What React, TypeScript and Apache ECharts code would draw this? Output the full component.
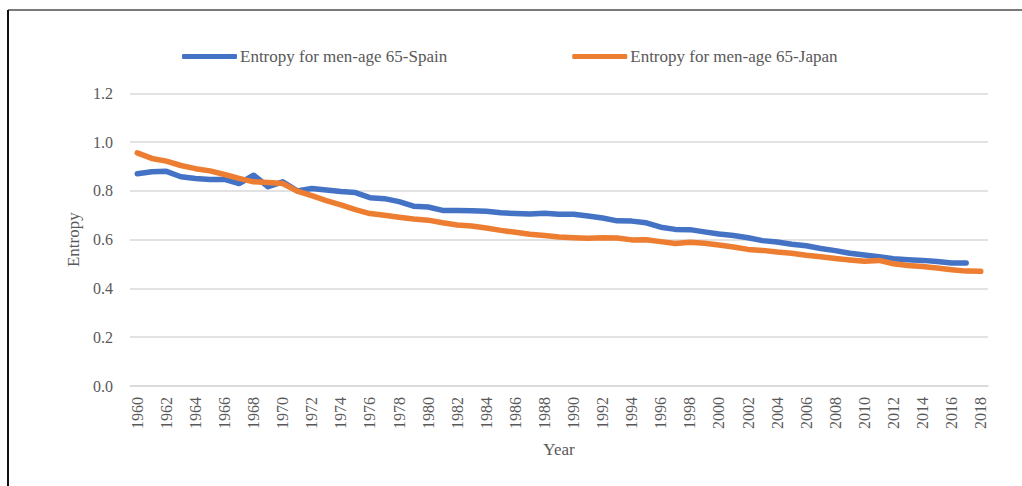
import React, { useEffect, useRef } from "react";
import * as echarts from "echarts";

const years: string[] = [];
for (let y = 1960; y <= 2018; y++) years.push(String(y));

const spain: (number | null)[] = [
  0.870, 0.878, 0.880, 0.858, 0.851, 0.847, 0.847, 0.830, 0.864, 0.817,
  0.837, 0.800, 0.810, 0.804, 0.797, 0.793, 0.772, 0.768, 0.756, 0.737,
  0.734, 0.720, 0.719, 0.718, 0.716, 0.710, 0.707, 0.705, 0.708, 0.704,
  0.704, 0.697, 0.689, 0.677, 0.676, 0.669, 0.651, 0.642, 0.641, 0.632,
  0.623, 0.617, 0.608, 0.596, 0.590, 0.581, 0.575, 0.564, 0.555, 0.544,
  0.537, 0.530, 0.522, 0.518, 0.515, 0.510, 0.504, 0.504, null,
];

const japan: number[] = [
  0.956, 0.933, 0.922, 0.904, 0.891, 0.882, 0.867, 0.851, 0.837, 0.834,
  0.830, 0.799, 0.780, 0.760, 0.743, 0.723, 0.707, 0.700, 0.692, 0.685,
  0.680, 0.669, 0.660, 0.656, 0.648, 0.638, 0.630, 0.622, 0.617, 0.611,
  0.608, 0.606, 0.608, 0.607, 0.599, 0.600, 0.592, 0.584, 0.589, 0.585,
  0.578, 0.570, 0.560, 0.556, 0.549, 0.544, 0.536, 0.530, 0.523, 0.517,
  0.511, 0.515, 0.501, 0.494, 0.490, 0.484, 0.477, 0.471, 0.470,
];

const seriesNames = ["Entropy for men-age 65-Spain", "Entropy for men-age 65-Japan"];
const FONT = "Liberation Serif";
const TEXT = "#595959";

export default function App() {
  const ref = useRef<HTMLDivElement>(null);
  useEffect(() => {
    if (!ref.current) return;
    const chart = echarts.init(ref.current, undefined, { renderer: "svg" });
    chart.setOption({
      animation: false,
      backgroundColor: "#ffffff",
      textStyle: { fontFamily: FONT, color: TEXT },
      graphic: [
        { type: "line", shape: { x1: 8, y1: 10, x2: 1022, y2: 10 }, style: { stroke: "#7a7a7a", lineWidth: 2 } },
        { type: "line", shape: { x1: 8, y1: 10, x2: 8, y2: 486 }, style: { stroke: "#111111", lineWidth: 2 } },
      ],
      legend: {
        left: 177,
        top: 43,
        itemWidth: 55,
        itemHeight: 5,
        itemGap: 125,
        icon: "roundRect",
        textStyle: { fontFamily: FONT, fontSize: 17, color: TEXT, padding: [0, 0, 0, -2] },
        data: seriesNames,
      },
      grid: { left: 130, right: 34, top: 93.3, bottom: 100, containLabel: false },
      xAxis: {
        type: "category",
        data: years,
        boundaryGap: true,
        name: "Year",
        nameLocation: "middle",
        nameGap: 55,
        nameTextStyle: { fontFamily: FONT, fontSize: 17, color: TEXT },
        axisLine: { show: true, lineStyle: { color: "#d9d9d9", width: 1.5 } },
        axisTick: { show: false },
        axisLabel: {
          interval: 1,
          rotate: 90,
          margin: 11,
          fontFamily: FONT,
          fontSize: 16,
          color: TEXT,
        },
      },
      yAxis: {
        type: "value",
        min: 0,
        max: 1.2,
        interval: 0.2,
        name: "Entropy",
        nameLocation: "middle",
        nameGap: 46,
        nameTextStyle: { fontFamily: FONT, fontSize: 17, color: TEXT },
        axisLine: { show: false },
        axisTick: { show: false },
        splitLine: { lineStyle: { color: "#d9d9d9", width: 1.5 } },
        axisLabel: {
          margin: 17,
          fontFamily: FONT,
          fontSize: 16,
          color: TEXT,
          formatter: (v: number) => v.toFixed(1),
        },
      },
      series: [
        {
          name: seriesNames[0],
          type: "line",
          data: spain,
          showSymbol: false,
          symbol: "none",
          itemStyle: { color: "#4472C4" },
          lineStyle: { color: "#4472C4", width: 5.5, cap: "round", join: "round" },
        },
        {
          name: seriesNames[1],
          type: "line",
          data: japan,
          showSymbol: false,
          symbol: "none",
          itemStyle: { color: "#ED7D31" },
          lineStyle: { color: "#ED7D31", width: 5.5, cap: "round", join: "round" },
        },
      ],
    });
    return () => chart.dispose();
  }, []);
  return (
    <div
      ref={ref}
      style={{ position: "fixed", left: 0, top: 0, width: 1022, height: 486 }}
    />
  );
}
